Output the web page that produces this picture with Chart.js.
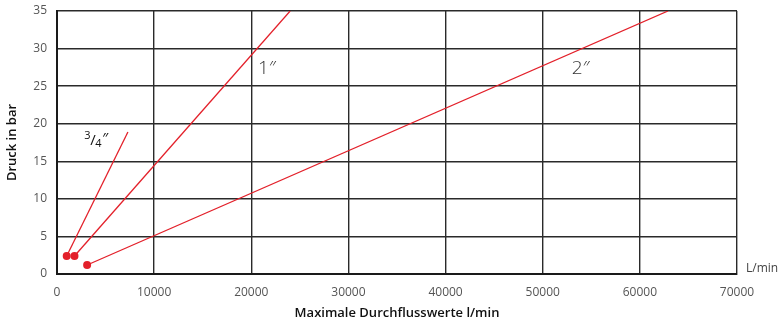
<!DOCTYPE html>
<html>
<head>
<meta charset="utf-8">
<script src="https://cdn.jsdelivr.net/npm/chart.js@4"></script>
<style>
  html, body { margin: 0; padding: 0; background: #fff; }
  #wrap { width: 778px; height: 321px; }
</style>
</head>
<body>
<div id="wrap"><canvas id="chart"></canvas></div>
<script>
// Durchfluss (l/min) vs. Druck (bar) per hose size
const seriesNames = ['3/4"', '1"', '2"'];
const flow34 = [1000, 7300];
const bar34 = [2.4, 18.9];
const flow1 = [1800, 24000];
const bar1 = [2.4, 35];
const flow2 = [3100, 62900];
const bar2 = [1.2, 35];

const xTicks = [0, 10000, 20000, 30000, 40000, 50000, 60000, 70000];
const yTicks = [0, 5, 10, 15, 20, 25, 30, 35];

// label anchors in data units
const labelX = [2800, 20700, 53000];
const labelY = [17.8, 27.4, 27.4];

const RED = '#e3202a';
const FONT = "'Open Sans', Lato, sans-serif";

function toPoints(xs, ys) {
    return xs.map((x, i) => ({ x: x, y: ys[i] }));
}

function lineSet(name, xs, ys) {
    return {
        label: name,
        data: toPoints(xs, ys),
        showLine: true,
        borderColor: RED,
        backgroundColor: RED,
        borderWidth: 1.3,
        pointRadius: [4, 0],
        pointHoverRadius: [4, 0],
        pointBorderWidth: 0
    };
}

// draws the size labels and the "L/min" unit
const labelPlugin = {
    id: 'sizeLabels',
    afterDraw(chart) {
        const ctx = chart.ctx;
        const xs = chart.scales.x;
        const ys = chart.scales.y;
        ctx.save();
        ctx.textBaseline = 'middle';
        ctx.textAlign = 'left';

        // 3/4"
        let px = xs.getPixelForValue(labelX[0]);
        let py = ys.getPixelForValue(labelY[0]);
        ctx.fillStyle = '#111';
        ctx.font = '11px ' + FONT;
        ctx.fillText('3', px, py - 4);
        ctx.font = '15px ' + FONT;
        ctx.fillText('/', px + 6, py);
        ctx.font = '11px ' + FONT;
        ctx.fillText('4', px + 11, py + 4);
        ctx.font = '15px ' + FONT;
        ctx.fillText('\u2033', px + 18, py - 2);

        // 1" and 2"
        ctx.fillStyle = '#333';
        ctx.font = '300 19px ' + FONT;
        for (let i = 1; i < seriesNames.length; i++) {
            px = xs.getPixelForValue(labelX[i]);
            py = ys.getPixelForValue(labelY[i]);
            ctx.fillText(seriesNames[i].replace('"', '\u2033'), px, py);
        }

        // unit
        ctx.fillStyle = '#444';
        ctx.font = '12px ' + FONT;
        ctx.fillText('L/min', chart.chartArea.right + 9, ys.getPixelForValue(0) - 5);
        ctx.restore();
    }
};

new Chart(document.getElementById('chart'), {
    type: 'scatter',
    data: {
        datasets: [
            lineSet(seriesNames[0], flow34, bar34),
            lineSet(seriesNames[1], flow1, bar1),
            lineSet(seriesNames[2], flow2, bar2)
        ]
    },
    options: {
        responsive: true,
        maintainAspectRatio: false,
        animation: false,
        events: [],
        layout: { padding: { top: 11, right: 41, left: 0, bottom: 0 } },
        plugins: {
            legend: { display: false },
            tooltip: { enabled: false }
        },
        scales: {
            x: {
                type: 'linear',
                min: 0,
                max: 70000,
                afterBuildTicks: (scale) => { scale.ticks = xTicks.map(v => ({ value: v })); },
                afterFit: (scale) => {
                    scale.height = 47;
                    scale.paddingLeft = 0;
                    scale.paddingRight = 0;
                },
                grid: { color: '#2a2a2a', lineWidth: 1.4, drawTicks: false },
                border: { color: '#1a1a1a', width: 2 },
                ticks: {
                    color: '#555',
                    padding: 11,
                    maxRotation: 0,
                    font: { family: FONT, size: 12 },
                    callback: (v) => String(v)
                },
                title: {
                    display: true,
                    text: 'Maximale Durchflusswerte l/min',
                    color: '#111',
                    padding: { top: 4, bottom: 0 },
                    font: { family: FONT, size: 13, weight: '600' }
                }
            },
            y: {
                type: 'linear',
                min: 0,
                max: 35,
                afterBuildTicks: (scale) => { scale.ticks = yTicks.map(v => ({ value: v })); },
                afterFit: (scale) => {
                    scale.width = 57;
                    scale.paddingTop = 0;
                    scale.paddingBottom = 0;
                },
                grid: { color: '#2a2a2a', lineWidth: 1.4, drawTicks: false },
                border: { color: '#1a1a1a', width: 2 },
                ticks: {
                    color: '#555',
                    padding: 10,
                    font: { family: FONT, size: 12 }
                },
                title: {
                    display: true,
                    text: 'Druck in bar',
                    color: '#111',
                    padding: { top: 4, bottom: 0 },
                    font: { family: FONT, size: 13, weight: '600' }
                }
            }
        }
    },
    plugins: [labelPlugin]
});
</script>
</body>
</html>
